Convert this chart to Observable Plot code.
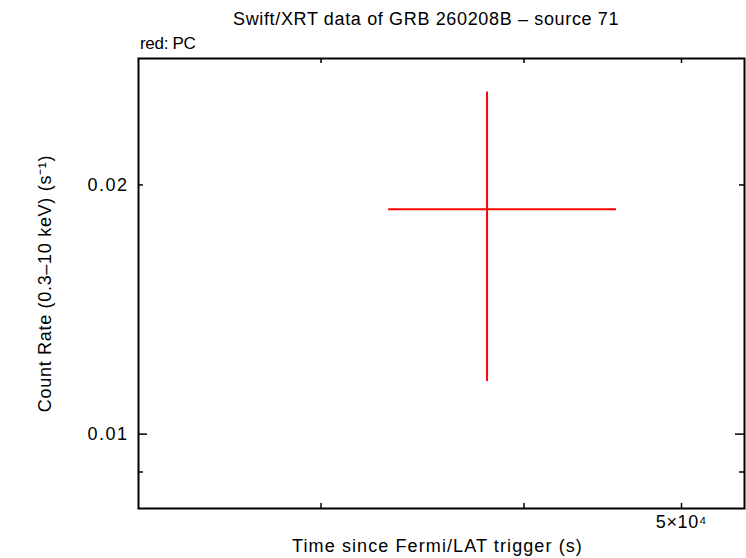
<!DOCTYPE html>
<html>
<head>
<meta charset="utf-8">
<script src="https://cdn.jsdelivr.net/npm/d3@7"></script>
<script src="https://cdn.jsdelivr.net/npm/@observablehq/plot@0.6"></script>
<style>
  html, body { margin: 0; padding: 0; background: #fff; }
  #wrap { width: 746px; font-family: "Liberation Sans", Arial, Helvetica, sans-serif; color: #000; }
  #header { position: relative; height: 50px; width: 746px; }
  #title { position: absolute; left: 233px; top: 10px; font-size: 18px; line-height: 18px; white-space: nowrap; letter-spacing: 0.65px; }
  #sub { position: absolute; left: 140px; top: 35px; font-size: 17px; line-height: 18px; white-space: nowrap; letter-spacing: -0.3px; }
  svg { display: block; }
</style>
</head>
<body>
<div id="wrap">
  <div id="header">
    <div id="title">Swift/XRT data of GRB 260208B – source 71</div>
    <div id="sub">red: PC</div>
  </div>
  <div id="chart"></div>
</div>
<script>
// Data
const time = [37958];
const timeLo = [33017];
const timeHi = [45603];
const rate = [0.018693];
const rateLo = [0.011576];
const rateHi = [0.025898];

// Axis ticks
const xTicks = [30000, 40000, 50000];
const xLabelTicks = [50000];
const xTickLabels = ["5×10⁴"];
const yMajorTicks = [0.01];
const yMinorTicks = [0.009, 0.02];
const yLabelTicks = [0.01, 0.02];
const yTickLabels = ["0.01", "0.02"];

const xTitle = "Time since Fermi/LAT trigger (s)";
const yTitle = "Count Rate (0.3–10 keV) (s⁻¹)";

const xDomain = [23161, 54670];
const yDomain = [0.008131, 0.02843];

const points = time.map((t, i) => ({t, tLo: timeLo[i], tHi: timeHi[i], r: rate[i], rLo: rateLo[i], rHi: rateHi[i]}));
const yLabelData = yLabelTicks.map((v, i) => ({v, s: yTickLabels[i]}));
const xLabelData = xLabelTicks.map((v, i) => ({v, s: xTickLabels[i]}));

const W = 746, H = 508;
const mTop = 8, mBottom = 50, mLeft = 138, mRight = 2;
const plotH = H - mTop - mBottom;
const plotW = W - mLeft - mRight;
const font = "Liberation Sans, Arial, Helvetica, sans-serif";

const chart = Plot.plot({
  width: W,
  height: H,
  marginTop: mTop,
  marginBottom: mBottom,
  marginLeft: mLeft,
  marginRight: mRight,
  style: {fontFamily: font, fontSize: "18px", background: "#fff", color: "#000"},
  x: {type: "log", domain: xDomain, axis: null},
  y: {type: "log", domain: yDomain, axis: null},
  marks: [
    // tick labels
    Plot.text(yLabelData, {y: "v", text: "s", frameAnchor: "left", dx: -10, textAnchor: "end", lineAnchor: "middle", fontSize: 18}),
    Plot.text(xLabelData, {x: "v", text: "s", frameAnchor: "bottom", dy: 7, textAnchor: "middle", lineAnchor: "top", fontSize: 18}),
    // inward ticks: x bottom & top
    Plot.tickX(xTicks, {x: d => d, insetTop: plotH - 5, stroke: "black", strokeWidth: 1.5}),
    Plot.tickX(xTicks, {x: d => d, insetBottom: plotH - 5, stroke: "black", strokeWidth: 1.5}),
    // y major ticks left & right
    Plot.tickY(yMajorTicks, {y: d => d, insetRight: plotW - 9, stroke: "black", strokeWidth: 1.5}),
    Plot.tickY(yMajorTicks, {y: d => d, insetLeft: plotW - 9, stroke: "black", strokeWidth: 1.5}),
    // y minor ticks left & right
    Plot.tickY(yMinorTicks, {y: d => d, insetRight: plotW - 5, stroke: "black", strokeWidth: 1.5}),
    Plot.tickY(yMinorTicks, {y: d => d, insetLeft: plotW - 5, stroke: "black", strokeWidth: 1.5}),
    // error bars
    Plot.ruleY(points, {y: "r", x1: "tLo", x2: "tHi", stroke: "#ff0000", strokeWidth: 2}),
    Plot.ruleX(points, {x: "t", y1: "rLo", y2: "rHi", stroke: "#ff0000", strokeWidth: 2}),
    // frame
    Plot.frame({stroke: "black", strokeWidth: 2}),
    // axis titles
    Plot.text([xTitle], {text: d => d, frameAnchor: "bottom", dy: 43, dx: -4, lineAnchor: "bottom", fontSize: 18}),
    Plot.text([yTitle], {text: d => d, frameAnchor: "left", dx: -93, rotate: -90, textAnchor: "middle", lineAnchor: "middle", fontSize: 18})
  ]
});
// widen glyph spacing to match the reference's rendering
const spacing = new Map([[xTitle, "1.1px"], [yTitle, "0.7px"], ["0.01", "1.5px"], ["0.02", "1.5px"], ["5×10⁴", "0.6px"]]);
d3.select(chart).selectAll("text").each(function() {
  const s = spacing.get(this.textContent);
  if (s) this.setAttribute("letter-spacing", s);
});
document.getElementById("chart").appendChild(chart);
</script>
</body>
</html>
